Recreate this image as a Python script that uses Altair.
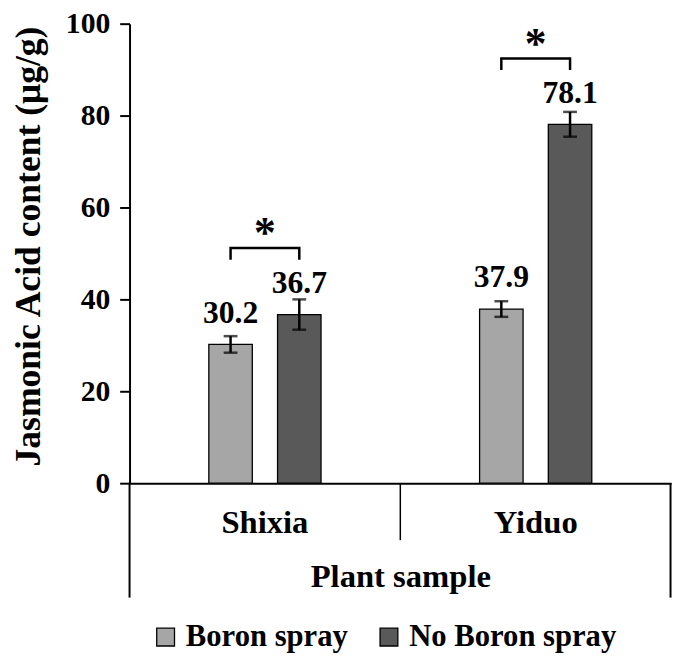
import altair as alt
import pandas as pd

# ---- data ----
samples = ["Shixia", "Shixia", "Yiduo", "Yiduo"]
treatments = ["Boron spray", "No Boron spray", "Boron spray", "No Boron spray"]
means = [30.2, 36.7, 37.9, 78.1]
errors = [1.8, 3.3, 1.7, 2.7]
value_labels = ["30.2", "36.7", "37.9", "78.1"]

categories = ["Shixia", "Yiduo"]
treatment_order = ["Boron spray", "No Boron spray"]
colors = ["#a6a6a6", "#595959"]

bracket_samples = ["Shixia", "Yiduo"]
bracket_tops = [51.2, 92.4]
bracket_legs = [48.6, 89.9]
star_text = ["*", "*"]

y_ticks = [0, 20, 40, 60, 80, 100]

X_TITLE = "Plant sample"
Y_TITLE = "Jasmonic Acid content (μg/g)"
FONT = "Liberation Serif"

df = pd.DataFrame({
    "sample": samples,
    "treatment": treatments,
    "mean": means,
    "err": errors,
    "label": value_labels,
})
df["lo"] = df["mean"] - df["err"]
df["hi"] = df["mean"] + df["err"]

rows = []
for s, top, leg in zip(bracket_samples, bracket_tops, bracket_legs):
    rows.append({"sample": s, "treatment": treatment_order[0], "yv": leg, "ord": 0})
    rows.append({"sample": s, "treatment": treatment_order[0], "yv": top, "ord": 1})
    rows.append({"sample": s, "treatment": treatment_order[1], "yv": top, "ord": 2})
    rows.append({"sample": s, "treatment": treatment_order[1], "yv": leg, "ord": 3})
brackets = pd.DataFrame(rows)
stars = pd.DataFrame({"sample": bracket_samples, "top": bracket_tops, "star": star_text})

x_scale = alt.Scale(domain=categories, paddingInner=0, paddingOuter=0)
xo_scale = alt.Scale(domain=treatment_order, paddingInner=0.06, paddingOuter=1)
y_scale = alt.Scale(domain=[0, 100])


def X(bp=None):
    if bp is None:
        return alt.X("sample:N", sort=categories, scale=x_scale, title=X_TITLE)
    return alt.X("sample:N", sort=categories, scale=x_scale, title=X_TITLE, bandPosition=bp)


def Y(field):
    return alt.Y(field, scale=y_scale, title=Y_TITLE, axis=alt.Axis(values=y_ticks))


XO = alt.XOffset("treatment:N", sort=treatment_order, scale=xo_scale)

bars = alt.Chart(df).mark_bar(stroke="black", strokeWidth=1.3, width=44).encode(
    x=X(),
    xOffset=XO,
    y=Y("mean:Q"),
    color=alt.Color(
        "treatment:N",
        scale=alt.Scale(domain=treatment_order, range=colors),
        legend=alt.Legend(
            title=None, orient="none", direction="horizontal",
            legendX=21, legendY=605,
            symbolType="square", symbolSize=324, symbolStrokeColor="black",
            symbolStrokeWidth=1.3, labelFont=FONT, labelFontSize=31,
            labelFontWeight="bold", labelColor="black", labelOffset=5,
            columnPadding=26, labelLimit=400,
        ),
    ),
)

err_rule = alt.Chart(df).mark_rule(color="black", strokeWidth=2.5).encode(
    x=X(), xOffset=XO, y=Y("lo:Q"), y2="hi:Q",
)
cap_lo = alt.Chart(df).mark_tick(color="black", size=14, thickness=2.5).encode(
    x=X(), xOffset=XO, y=Y("lo:Q"),
)
cap_hi = alt.Chart(df).mark_tick(color="black", size=14, thickness=2.5).encode(
    x=X(), xOffset=XO, y=Y("hi:Q"),
)
texts = alt.Chart(df).mark_text(
    font=FONT, fontSize=32, fontWeight="bold", color="black",
    baseline="alphabetic", dy=-22,
).encode(
    x=X(), xOffset=XO, y=Y("mean:Q"), text="label:N",
)

bracket_lines = alt.Chart(brackets).mark_line(color="black", strokeWidth=2.5).encode(
    x=X(), xOffset=XO, y=Y("yv:Q"),
    detail="sample:N", order="ord:Q",
)
star_marks = alt.Chart(stars).mark_text(
    font=FONT, fontSize=44, fontWeight="bold", color="black",
    baseline="alphabetic", dy=-1,
).encode(
    x=X(), y=Y("top:Q"), text="star:N",
)

sep_df = pd.DataFrame({"sample": categories, "y0": [0, 0]})
sep_left = alt.Chart(sep_df).transform_filter(alt.datum.sample == "Shixia").mark_rule(
    color="black", strokeWidth=2).encode(
    x=X(0), y=Y("y0:Q"), y2=alt.datum(-24.9),
)
sep_mid = alt.Chart(sep_df).transform_filter(alt.datum.sample == "Yiduo").mark_rule(
    color="black", strokeWidth=1.5).encode(
    x=X(0), y=Y("y0:Q"), y2=alt.datum(-12.4),
)
sep_right = alt.Chart(sep_df).transform_filter(alt.datum.sample == "Yiduo").mark_rule(
    color="black", strokeWidth=2).encode(
    x=X(0.998), y=Y("y0:Q"), y2=alt.datum(-24.9),
)

chart = alt.layer(
    bars, err_rule, cap_lo, cap_hi, texts, bracket_lines, star_marks,
    sep_left, sep_mid, sep_right,
).properties(
    width=548, height=465,
    autosize=alt.AutoSizeParams(type="none"),
    padding={"left": 123, "top": 12, "right": 6, "bottom": 170},
    background="white",
).configure_view(
    stroke=None
).configure_axisX(
    labelAngle=0, ticks=False, tickSize=0, grid=False,
    domain=True, domainColor="black", domainWidth=2,
    labelFont=FONT, labelFontSize=33, labelFontWeight="bold", labelColor="black",
    labelBaseline="alphabetic", labelPadding=50,
    titleFont=FONT, titleFontSize=33, titleFontWeight="bold", titleColor="black",
    titleBaseline="alphabetic", titleY=105,
).configure_axisY(
    grid=False,
    domainColor="black", domainWidth=2, tickColor="black", tickWidth=2, tickSize=10,
    labelFont=FONT, labelFontSize=30, labelFontWeight="bold", labelColor="black",
    labelPadding=10,
    titleFont=FONT, titleFontSize=36, titleFontWeight="bold", titleColor="black",
    titleBaseline="alphabetic", titleX=-91, titleY=225,
)

chart.save("out.html", embed_options={"renderer": "svg", "actions": False})
